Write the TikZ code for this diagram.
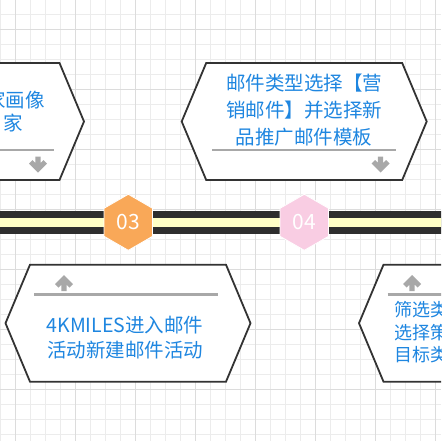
\documentclass[tikz,border=0pt]{standalone}
\usepackage{fontspec}
\setmainfont{Noto Sans CJK SC}
\usetikzlibrary{shapes.geometric}
\definecolor{gridminor}{HTML}{ECECEC}
\definecolor{gridmajor}{HTML}{DCDCDC}
\definecolor{banddark}{HTML}{2E2E2E}
\definecolor{bandlight}{HTML}{FFFFC6}
\definecolor{steptxt}{HTML}{1E86E0}
\definecolor{stepedge}{HTML}{333333}
\definecolor{rulegray}{HTML}{A8A8A8}
\definecolor{badgeorange}{HTML}{F9A858}
\definecolor{badgepink}{HTML}{F9CDE3}
\tikzset{
	hexbox/.style={draw=stepedge,line width=1.8pt,fill=white,line join=miter},
	steptext/.style={text=steptxt,font=\fontsize{19.5}{27}\selectfont,align=center,inner sep=0pt},
	badge/.style={regular polygon,regular polygon sides=6,shape border rotate=30,minimum size=56pt,
		inner sep=0pt,draw=white,line width=.8pt,text=white,font=\fontsize{21}{21}\selectfont},
	steprule/.style={rulegray,line width=2.8pt}
}
\begin{document}
\begin{tikzpicture}[x=1pt,y=-1pt]
			\useasboundingbox (0,0) rectangle (441,441);
			\clip (0,0) rectangle (441,441);
			\fill[white] (0,0) rectangle (441,441);
			% grid
			\foreach \x in {0,15,...,435} \draw[gridminor,line width=.6pt] (\x,0)--(\x,441);
			\foreach \y in {14,29,...,434} \draw[gridminor,line width=.6pt] (0,\y)--(441,\y);
			\foreach \x in {15,75,...,435} \draw[gridmajor,line width=.6pt] (\x,0)--(\x,441);
			\foreach \y in {29,89,...,409} \draw[gridmajor,line width=.6pt] (0,\y)--(441,\y);
			% timeline band
			\path (-5,222.3) coordinate (L) (446,222.3) coordinate (R);
			\draw[banddark,line width=23.3pt] (L)--(R);
			\draw[bandlight,line width=8.7pt] (L)--(R);
			% step boxes
			\path 
			(-38.5,121.5) coordinate (B2) (304.2,121.5) coordinate (B4)
			(128,323.2) coordinate (B3) (481.5,323.2) coordinate (B5)
			;
			\foreach \c in {B2,B3,B4,B5} \draw[hexbox] (\c) ++(-98,-58.5) --++(196,0) --++(24.5,58.5)
			--++(-24.5,58.5) --++(-196,0) --++(-24.5,-58.5) --cycle;
			\foreach \c in {B2,B4} \draw[steprule] ([shift={(-92,28.5)}]\c)--([shift={(92,28.5)}]\c);
			\foreach \c in {B3,B5} \draw[steprule] ([shift={(-94,-28.7)}]\c)--([shift={(90,-28.7)}]\c);
			% arrows
			\path 
			(38,172.5) coordinate (a2) (380.5,172.5) coordinate (a4)
			(64,275) coordinate (a3) (412,275) coordinate (a5)
			;
			\foreach \t/\s in {a2/-1,a4/-1,a3/1,a5/1} \fill[rulegray] (\t) --++(9,9*\s) --++(-3.5,3.5*\s)
			--++(-2.8,-2.8*\s) --++(0,6.3*\s) --++(-5.4,0) --++(0,-6.3*\s) --++(-2.8,2.8*\s) --++(-3.5,-3.5*\s) --cycle;
			% texts
			\node[steptext,anchor=east] (t2a) at (45,100) {家画像};
			\node[steptext,anchor=east] (t2b) at (23,123) {家};
			\node[steptext] (t4) at (304,110) {邮件类型选择【营\\销邮件】并选择新\\品推广邮件模板};
			\node[steptext,font=\fontsize{19.5}{25}\selectfont] (t3) at (125,337.5) {4KMILES进入邮件\\活动新建邮件活动};
			\node[steptext,anchor=west,align=left,font=\fontsize{18}{22.5}\selectfont] (t5) at (394,332.5) {筛选类\\选择策\\目标类};
			% badges
			\node[badge,fill=badgeorange] (n03) at (128.3,222.3) {03};
			\node[badge,fill=badgepink] (n04) at (304.3,222.3) {04};
		\end{tikzpicture}
\end{document}
